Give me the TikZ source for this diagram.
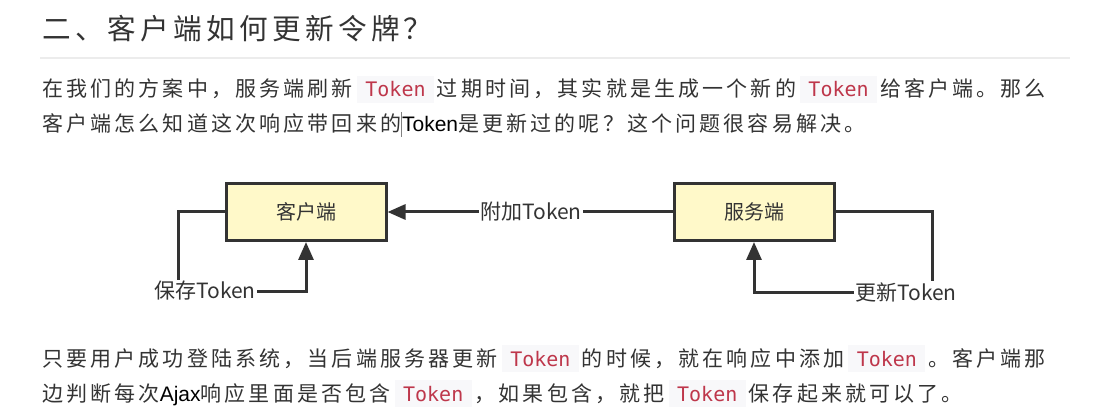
\documentclass[tikz,border=0pt]{standalone}
\usepackage{fontspec}
\setmainfont{Noto Sans CJK SC}
\newfontfamily\bodyfont[LetterSpace=15]{Noto Sans CJK SC}
\newfontfamily\latinfont{Liberation Sans}
\newfontfamily\codefont{DejaVu Sans Mono}
\usetikzlibrary{arrows.meta,positioning}

\definecolor{ink}{HTML}{333333}
\definecolor{rulegray}{HTML}{ECECEC}
\definecolor{boxfill}{HTML}{FFF9C9}
\definecolor{codebg}{HTML}{F8F8FA}
\definecolor{tokred}{RGB}{190,55,75}

% inline code box
\newcommand{\tok}{\hspace{4pt}{\setlength{\fboxsep}{0pt}\colorbox{codebg}{\rule[-6pt]{0pt}{27pt}\makebox[77pt]{\codefont\fontsize{20}{20}\selectfont\color{tokred}Token}}}\hspace{3pt}}
\newcommand{\cursorbar}{\textcolor{gray}{\rule[-5pt]{0.8pt}{25pt}}}

\tikzset{
	line/.style={anchor=base west, inner sep=0pt, text=ink, font=\bodyfont\fontsize{21}{21}\selectfont},
	box/.style={draw=ink, line width=3pt, fill=boxfill, minimum width=160pt, minimum height=57pt, text=ink, font=\fontsize{20}{20}\selectfont},
	lbl/.style={inner sep=1.5pt, text=ink, font=\fontsize{21}{21}\selectfont},
	conn/.style={draw=ink, line width=3pt},
	tip/.style={-{Triangle[length=18pt,width=15pt]}}
}

\begin{document}
\begin{tikzpicture}[x=1pt, y=-1pt]
	\useasboundingbox (0,0) rectangle (1098,414);

	% heading
	\node[anchor=base west, inner sep=0pt, text=ink, font=\bodyfont\fontsize{28.6}{28.6}\selectfont] (title) at (42,40) {二、客户端如何更新令牌？};
	\draw[rulegray, line width=1.2pt] (40,58) -- (1070,58);

	% first paragraph
	\node[line] (p1a) at (42,97)  {在我们的方案中，服务端刷新\tok 过期时间，其实就是生成一个新的\tok 给客户端。那么};
	\node[line] (p1b) at (42,132) {客户端怎么知道这次响应带回来的\cursorbar{\latinfont\color{black}Token}是更新过的呢？这个问题很容易解决。};

	% diagram
	\node[box] (client) at (306,212) {客户端};
	\node[box] (server) at (754,212) {服务端};
	\node[lbl] (attach) at (531,212) {附加Token};
	\node[lbl] (save)   at (205,291) {保存Token};
	\node[lbl] (renew)  at (906,292) {更新Token};

	\draw[conn] (server.west) -- (attach.east);
	\draw[conn, tip] (attach.west) -- (client.east);
	\draw[conn] (client.west) -| ([xshift=-27pt]save.north);
	\draw[conn, tip] (save.east) -| (client.south);
	\draw[conn] (server.east) -| ([xshift=26pt]renew.north);
	\draw[conn, tip] (renew.west) -| (server.south);

	% second paragraph
	\node[line] (p2a) at (42,366) {只要用户成功登陆系统，当后端服务器更新\tok 的时候，就在响应中添加\tok 。客户端那};
	\node[line] (p2b) at (42,401) {边判断每次{\latinfont\color{black}Ajax}响应里面是否包含\tok ，如果包含，就把\tok 保存起来就可以了。};
\end{tikzpicture}
\end{document}
